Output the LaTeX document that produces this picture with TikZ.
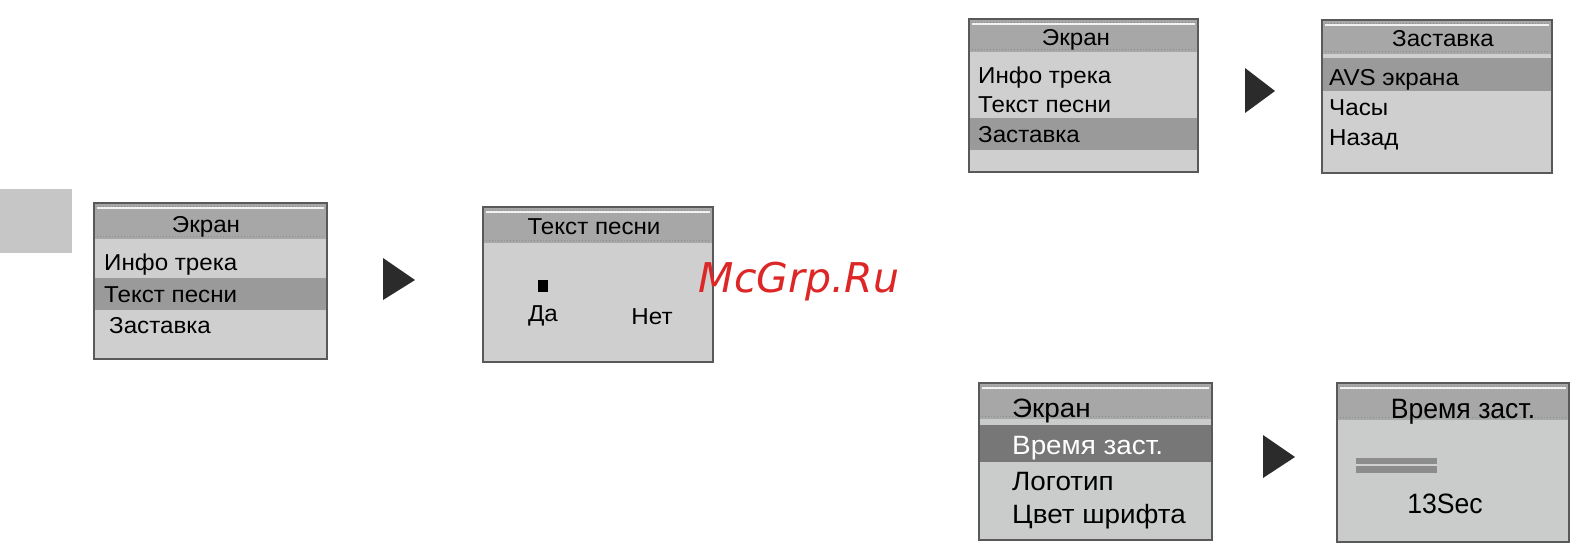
\documentclass[tikz,border=0pt]{standalone}
\usepackage{fontspec}
\setmainfont{Liberation Sans}[FakeStretch=1.05]
\newfontfamily\narrowfont{Liberation Sans}[FakeStretch=0.95]
\newfontfamily\wmfont{DejaVu Sans}
\definecolor{bodycol}{HTML}{CFCFCF}
\definecolor{bodycolb}{HTML}{C9CCCB}
\definecolor{headcol}{HTML}{A7A7A7}
\definecolor{hlcol}{HTML}{9A9A9A}
\definecolor{hldark}{HTML}{777777}
\definecolor{bordercol}{HTML}{595959}
\definecolor{tabcol}{HTML}{C6C6C6}
\definecolor{tricol}{HTML}{2B2B2B}
\definecolor{dotcol}{HTML}{8C8C8C}
\definecolor{wmred}{HTML}{DD2626}
\tikzset{
  frame/.style={draw=bordercol, line width=2.6pt},
  hdots/.style={dotcol, line width=1pt, dash pattern=on 1pt off 2pt},
  hlight/.style={white!85!headcol, line width=1.6pt},
  row/.style={anchor=base west, inner sep=0pt, font=\fontsize{23}{27}\selectfont},
  rowb/.style={anchor=base west, inner sep=0pt, font=\fontsize{26.5}{30}\selectfont},
  title/.style={anchor=base, inner sep=0pt, font=\fontsize{23}{27}\selectfont},
  tri/.style={fill=tricol},
}
\newcommand{\screenbg}[6]{% x1 y1 x2 y2 yh bodycolour
  \fill[#6] (#1,#2) rectangle (#3,#4);
  \fill[headcol] (#1,#2) rectangle (#3,#5);
}
\newcommand{\screenfr}[5]{%
  \draw[hlight] (#1+3,#2+5) -- (#3-3,#2+5);
  \draw[hdots] (#1+3,#2+3) -- (#3-3,#2+3);
  \draw[hdots] (#1+3,#5-3) -- (#3-3,#5-3);
  \draw[frame] (#1,#2) rectangle (#3,#4);
}
\begin{document}
\begin{tikzpicture}[x=1pt,y=-1pt]
\useasboundingbox (0,0) rectangle (1588,554);
\fill[white] (0,0) rectangle (1588,554);
% side tab
\fill[tabcol] (0,189) rectangle (72,253);

% ---------- box 1
\screenbg{94}{203}{327}{359}{239}{bodycol}
\fill[hlcol] (94,278) rectangle (327,310);
\screenfr{94}{203}{327}{359}{239}
\node[title] (b1h) at (206,232) {Экран};
\node[row] (b1r1) at (104,270) {Инфо трека};
\node[row] (b1r2) at (104,302) {Текст песни};
\node[row] (b1r3) at (109,333) {Заставка};

% ---------- box 2
\screenbg{483}{207}{713}{362}{243}{bodycol}
\screenfr{483}{207}{713}{362}{243}
\node[title] (b2h) at (594,234) {Текст песни};
\fill[black] (538,280) rectangle (548,292);
\node[title] (b2y) at (543,321) {Да};
\node[title] (b2n) at (652,324) {Нет};

% ---------- box 3
\screenbg{969}{19}{1198}{172}{52}{bodycol}
\fill[hlcol] (969,118) rectangle (1198,150);
\screenfr{969}{19}{1198}{172}{52}
\node[title] (b3h) at (1076,45) {Экран};
\node[row] (b3r1) at (978,83) {Инфо трека};
\node[row] (b3r2) at (978,112) {Текст песни};
\node[row] (b3r3) at (978,142) {Заставка};

% ---------- box 4
\screenbg{1322}{20}{1552}{173}{54}{bodycol}
\fill[hlcol] (1322,58) rectangle (1552,91);
\screenfr{1322}{20}{1552}{173}{54}
\node[title] (b4h) at (1443,46) {Заставка};
\node[row] (b4r1) at (1329,85) {AVS экрана};
\node[row] (b4r2) at (1329,115) {Часы};
\node[row] (b4r3) at (1329,145) {Назад};

% ---------- box 5
\screenbg{979}{383}{1212}{540}{419}{bodycolb}
\fill[hldark] (979,425) rectangle (1212,462);
\screenfr{979}{383}{1212}{540}{419}
\node[rowb] (b5h) at (1012,417) {Экран};
\node[rowb, text=white] (b5r1) at (1012,454) {Время заст.};
\node[rowb] (b5r2) at (1012,490) {Логотип};
\node[rowb] (b5r3) at (1012,523) {Цвет шрифта};

% ---------- box 6
\screenbg{1337}{383}{1569}{542}{420}{bodycolb}
\screenfr{1337}{383}{1569}{542}{420}
\node[anchor=base, inner sep=0pt, font=\narrowfont\fontsize{28}{32}\selectfont] (b6h) at (1463,418) {Время заст.};
\fill[dotcol] (1356,458) rectangle (1437,473);
\draw[white!60!dotcol, line width=1.2pt] (1356,465) -- (1437,465);
\node[anchor=base, inner sep=0pt, font=\narrowfont\fontsize{28}{32}\selectfont] (b6v) at (1445,513) {13Sec};

% ---------- arrows
\fill[tri] (383,258) -- (383,300) -- (415,280) -- cycle;
\fill[tri] (1245,68) -- (1245,113) -- (1275,91) -- cycle;
\fill[tri] (1263,435) -- (1263,478) -- (1295,457) -- cycle;

% ---------- watermark
\node[anchor=base, inner sep=0pt, text=wmred, font=\wmfont\itshape\fontsize{41}{46}\selectfont] (wm) at (799,292) {McGrp.Ru};
\end{tikzpicture}
\end{document}
